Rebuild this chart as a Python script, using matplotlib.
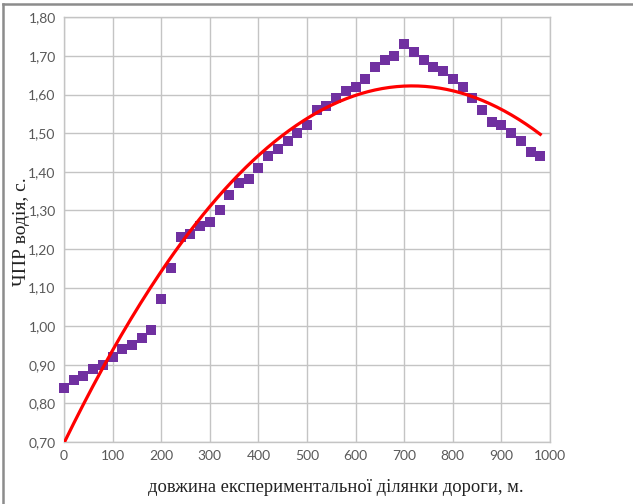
import numpy as np
import matplotlib.pyplot as plt
from matplotlib.lines import Line2D

# довжина ділянки, м
dist = list(range(0, 1000, 20))
# ЧПР водія, с
react = [0.84, 0.86, 0.87, 0.89, 0.90, 0.92, 0.94, 0.95, 0.97, 0.99,
         1.07, 1.15, 1.23, 1.24, 1.26, 1.27, 1.30, 1.34, 1.37, 1.38,
         1.41, 1.44, 1.46, 1.48, 1.50, 1.52, 1.56, 1.57, 1.59, 1.61,
         1.62, 1.64, 1.67, 1.69, 1.70, 1.73, 1.71, 1.69, 1.67, 1.66,
         1.64, 1.62, 1.59, 1.56, 1.53, 1.52, 1.50, 1.48, 1.45, 1.44]

x_ticks = [0, 100, 200, 300, 400, 500, 600, 700, 800, 900, 1000]
y_ticks = [0.70, 0.80, 0.90, 1.00, 1.10, 1.20, 1.30, 1.40, 1.50, 1.60, 1.70, 1.80]

# поліноміальна лінія тренду 2-го порядку
coef = np.polyfit(dist, react, 2)
xs = np.linspace(0, 980, 200)
ys = np.polyval(coef, xs)

fig = plt.figure(figsize=(6.33, 5.04), dpi=100)
ax = fig.add_axes([64/633, 1-442/504, (550-64)/633, (442-17.3)/504])

ax.scatter(dist, react, marker='s', s=44, color='#7030A0', zorder=3, linewidths=0, clip_on=False)
ax.plot(xs, ys, color='#FF0000', lw=2.3, zorder=4)

ax.set_xlim(0, 1000)
ax.set_ylim(0.70, 1.80)
ax.set_xticks(x_ticks)
ax.set_yticks(y_ticks)
ax.set_yticklabels([('%.2f' % v).replace('.', ',') for v in y_ticks])
ax.grid(True, color='#c4c4c4', lw=1.0)
ax.set_axisbelow(True)
for s in ax.spines.values():
    s.set_color('#c4c4c4')
    s.set_linewidth(1.0)
ax.tick_params(length=0, labelsize=10, labelcolor='#595959', pad=6)
for lab in ax.get_xticklabels() + ax.get_yticklabels():
    lab.set_family(['Lato', 'DejaVu Sans'])

fig.text(336/633, 1-488/504, 'довжина експериментальної ділянки дороги, м.',
         ha='center', va='center', fontsize=13.3, family='Liberation Serif', color='#222222')
fig.text(22/633, 1-232/504, 'ЧПР водія, с.', rotation=90,
         ha='center', va='center', fontsize=14, family='Liberation Serif', color='#222222')

# рамка
fig.add_artist(Line2D([3/633, 1], [1-4/504, 1-4/504], color='#8c8c8c', lw=1.8))
fig.add_artist(Line2D([3/633, 3/633], [0, 1-4/504], color='#8c8c8c', lw=1.8))

fig.savefig('out.png', dpi=100)
